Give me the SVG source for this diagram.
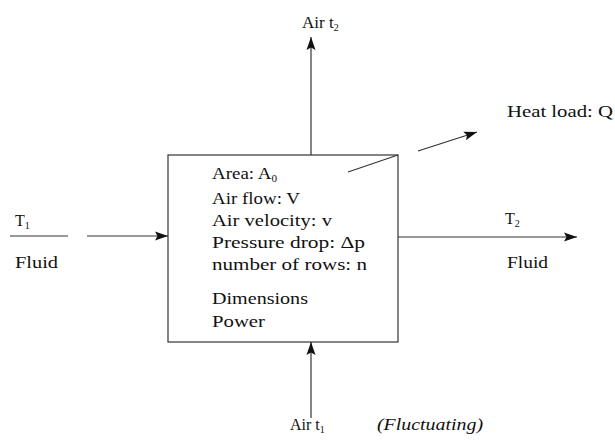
<svg xmlns="http://www.w3.org/2000/svg" width="615" height="440" viewBox="0 0 615 440">
  <defs>
    <marker id="arr" markerUnits="userSpaceOnUse" markerWidth="14" markerHeight="10" viewBox="0 0 14 10" refX="13" refY="5" orient="auto">
      <path d="M0,0.5 L13,5 L0,9.5 L2.5,5 Z" fill="#111"/>
    </marker>
    <style>
      text { font-family: "Liberation Serif", "Times New Roman", serif; fill: #111; }
      .t { font-size: 17px; }
      .s { font-size: 16px; }
      .sub { font-size: 10px; }
      .it { font-style: italic; }
      .ln { stroke: #333; stroke-width: 1.2; fill: none; }
      .box { stroke: #333; stroke-width: 1.2; fill: none; }
    </style>
  </defs>
  <rect width="615" height="440" fill="#fff"/>

  <g id="exchanger">
    <rect class="box" x="168" y="155" width="230" height="187"/>
    <text class="t" x="212" y="179" textLength="65" lengthAdjust="spacingAndGlyphs">Area: A<tspan class="sub" dy="3">0</tspan></text>
    <text class="t" x="212" y="204" textLength="88" lengthAdjust="spacingAndGlyphs">Air flow: V</text>
    <text class="t" x="212" y="226" textLength="120" lengthAdjust="spacingAndGlyphs">Air velocity: v</text>
    <text class="t" x="212" y="248" textLength="153" lengthAdjust="spacingAndGlyphs">Pressure drop: Δp</text>
    <text class="t" x="212" y="270" textLength="155" lengthAdjust="spacingAndGlyphs">number of rows: n</text>
    <text class="t" x="212" y="304" textLength="96" lengthAdjust="spacingAndGlyphs">Dimensions</text>
    <text class="t" x="212" y="327" textLength="53" lengthAdjust="spacingAndGlyphs">Power</text>
  </g>

  <g id="connectors">
    <line class="ln" x1="311" y1="155" x2="311" y2="37" marker-end="url(#arr)"/>
    <line class="ln" x1="311" y1="418" x2="311" y2="342" marker-end="url(#arr)"/>
    <line class="ln" x1="10" y1="236" x2="68" y2="236"/>
    <line class="ln" x1="87" y1="236" x2="168" y2="236" marker-end="url(#arr)"/>
    <line class="ln" x1="398" y1="237" x2="577" y2="237" marker-end="url(#arr)"/>
    <line class="ln" x1="348" y1="172" x2="398" y2="155"/>
    <line class="ln" x1="418" y1="151" x2="477" y2="132" marker-end="url(#arr)"/>
  </g>

  <g id="air-out">
    <text class="t" x="302" y="28">Air t<tspan class="sub" dy="3">2</tspan></text>
  </g>

  <g id="heat-load">
    <text class="s" x="507" y="117" textLength="106" lengthAdjust="spacingAndGlyphs">Heat load: Q</text>
  </g>

  <g id="fluid-in">
    <text class="s" x="15" y="226">T<tspan class="sub" dy="3">1</tspan></text>
    <text class="s" x="15" y="268" textLength="43" lengthAdjust="spacingAndGlyphs">Fluid</text>
  </g>

  <g id="fluid-out">
    <text class="s" x="505" y="224">T<tspan class="sub" dy="3">2</tspan></text>
    <text class="s" x="507" y="268" textLength="41" lengthAdjust="spacingAndGlyphs">Fluid</text>
  </g>

  <g id="air-in">
    <text class="s" x="290" y="430">Air t<tspan class="sub" dy="3">1</tspan></text>
    <text class="s it" x="377" y="430" textLength="106" lengthAdjust="spacingAndGlyphs">(Fluctuating)</text>
  </g>
</svg>
